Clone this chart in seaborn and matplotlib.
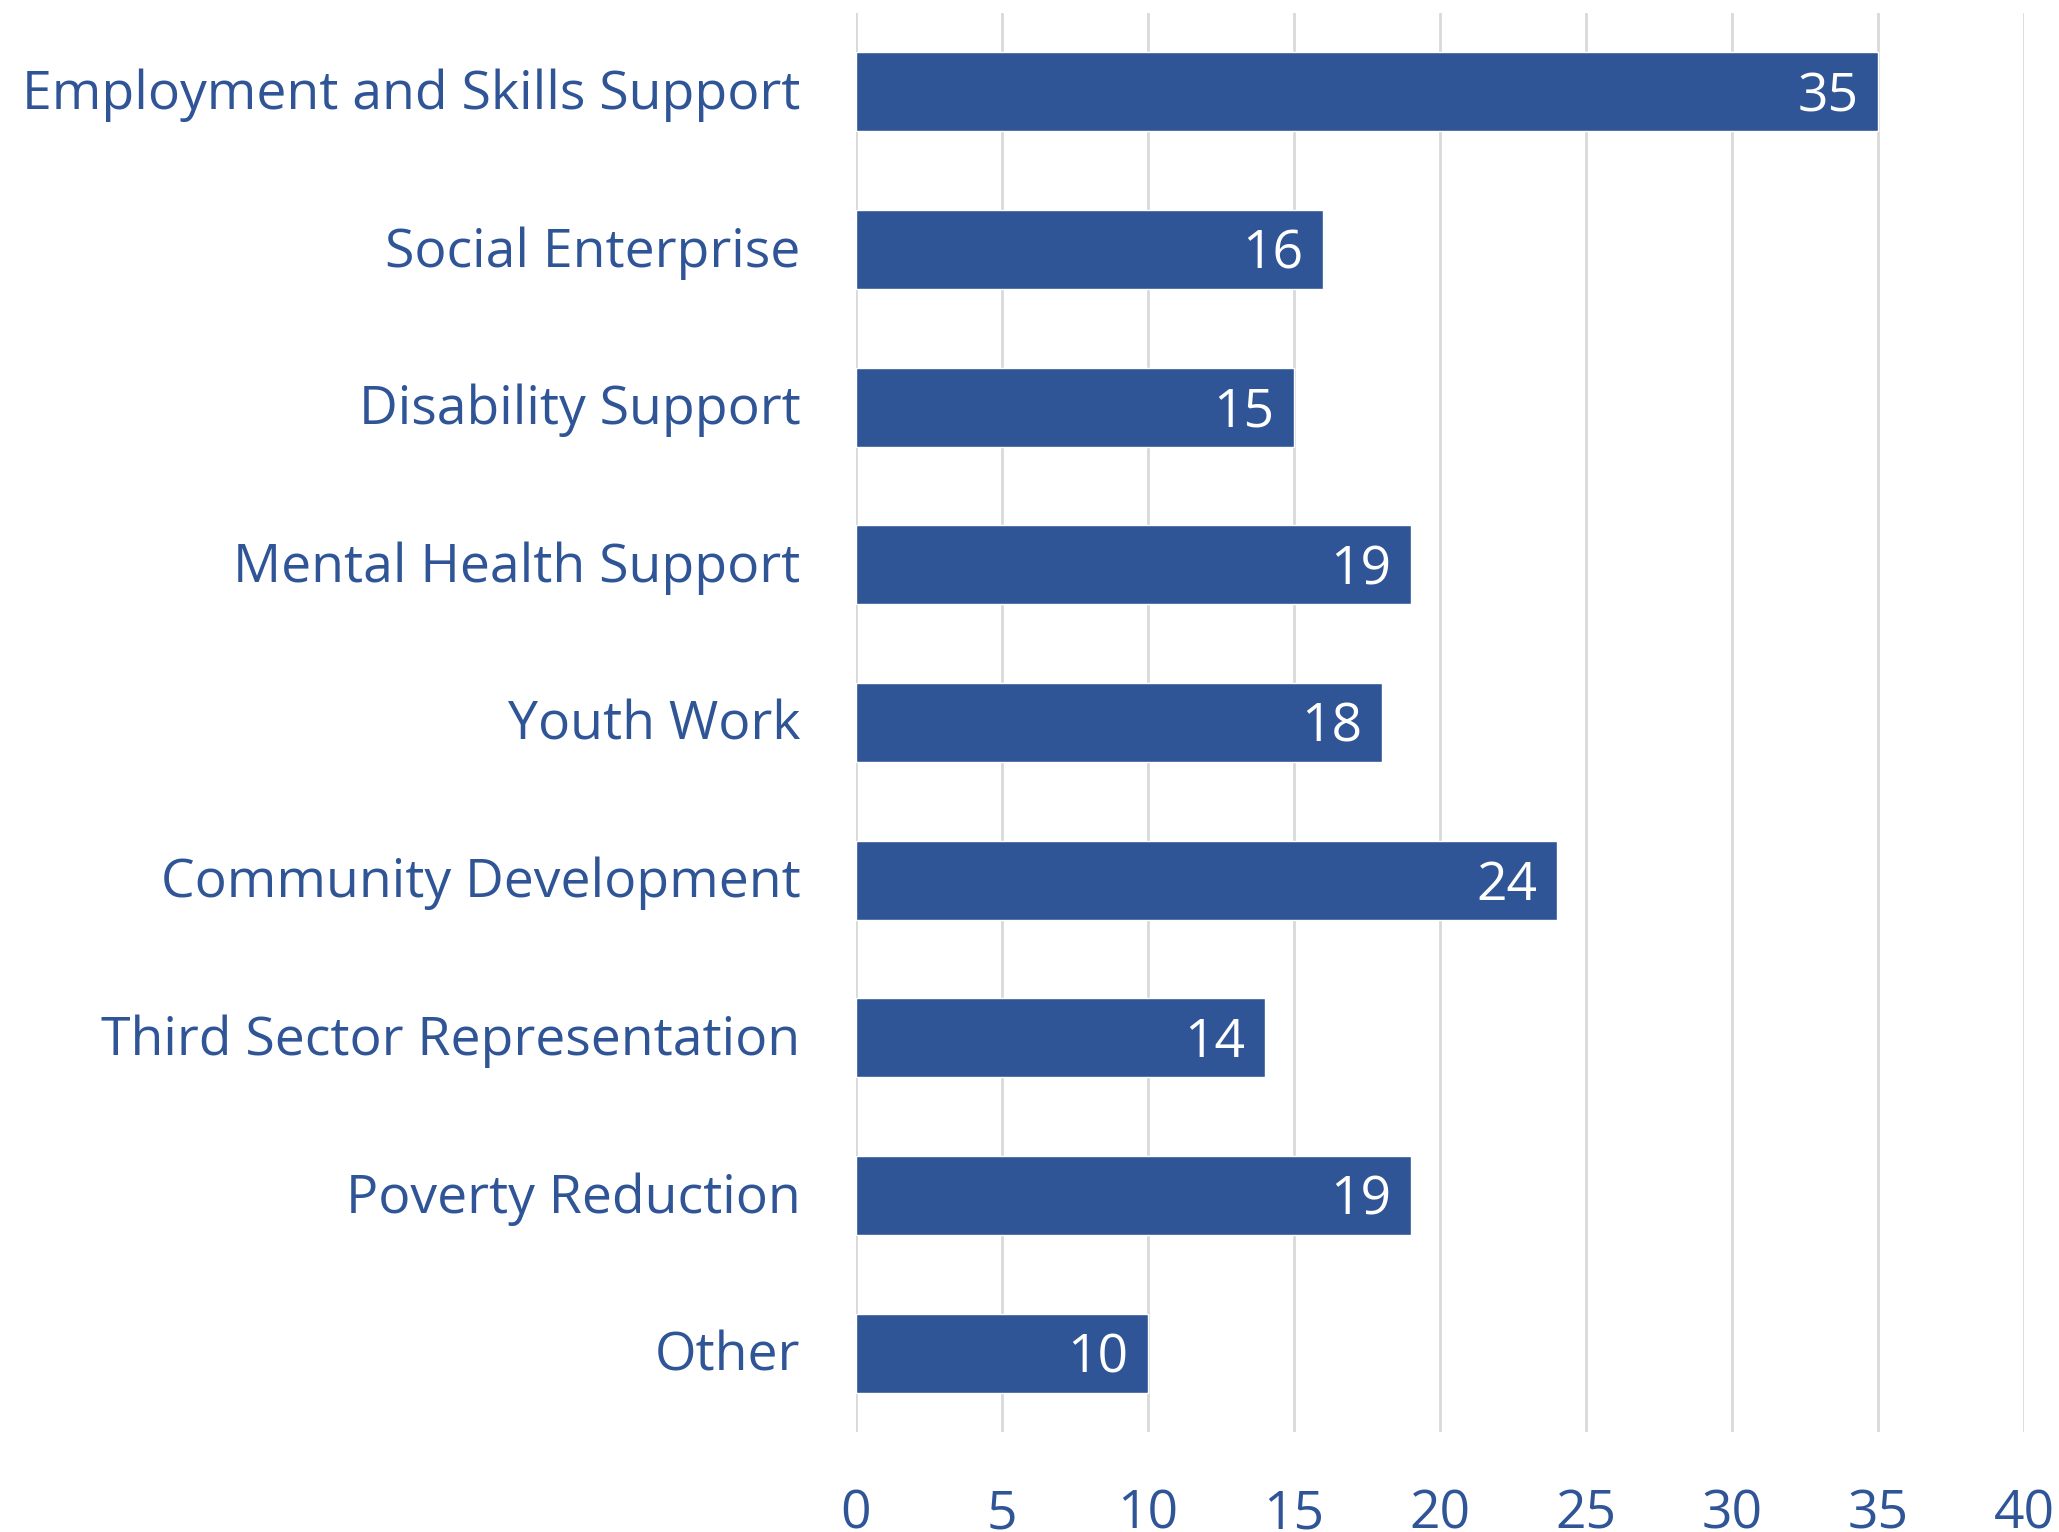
import matplotlib
matplotlib.use("Agg")
import matplotlib.pyplot as plt
import matplotlib.transforms as mtransforms
import seaborn as sns
import pandas as pd

categories = [
    "Employment and Skills Support",
    "Social Enterprise",
    "Disability Support",
    "Mental Health Support",
    "Youth Work",
    "Community Development",
    "Third Sector Representation",
    "Poverty Reduction",
    "Other",
]
counts = [35, 16, 15, 19, 18, 24, 14, 19, 10]
x_ticks = [0, 5, 10, 15, 20, 25, 30, 35, 40]

BAR_COLOR = "#2F5597"
TEXT_COLOR = "#2F5597"
GRID_COLOR = "#D9D9D9"

sns.set_theme(style="white")
plt.rcParams["font.family"] = ["Open Sans", "DejaVu Sans"]

df = pd.DataFrame({"area": categories, "count": counts})

fig = plt.figure(figsize=(20.59, 15.32), dpi=100)
ax = fig.add_axes([0.4157, 0.0653, 0.983 - 0.4157, 0.9915 - 0.0653])

sns.barplot(data=df, y="area", x="count", orient="h", color=BAR_COLOR,
            saturation=1, width=0.5, ax=ax, zorder=3)

ax.set_xlim(0, 40)
ax.set_ylim(len(categories) - 0.5, -0.5)
ax.set_xticks(x_ticks)
ax.set_xticklabels([str(t) for t in x_ticks])
ax.grid(axis="x", color=GRID_COLOR, linewidth=2, zorder=0)
ax.grid(axis="y", visible=False)
for s in ax.spines.values():
    s.set_visible(False)

ax.set_xlabel("")
ax.set_ylabel("")
ax.tick_params(axis="x", length=0, pad=40, labelsize=38.5, labelcolor=TEXT_COLOR)
ax.tick_params(axis="y", length=0, pad=40, labelsize=38.5, labelcolor=TEXT_COLOR)

# nudge category labels up a touch so they sit on the bar centres
shift = mtransforms.ScaledTranslation(0, 3 / 100, fig.dpi_scale_trans)
for lbl in ax.get_yticklabels():
    lbl.set_transform(lbl.get_transform() + shift)

# value labels inside the bar ends, digits centred on the bar
for i, v in enumerate(counts):
    ax.annotate(str(v), xy=(v, i), xytext=(-14, -14), textcoords="offset points",
                ha="right", va="baseline", color="white", fontsize=38.5, zorder=4)

fig.savefig("out.png", dpi=100, facecolor="white")
